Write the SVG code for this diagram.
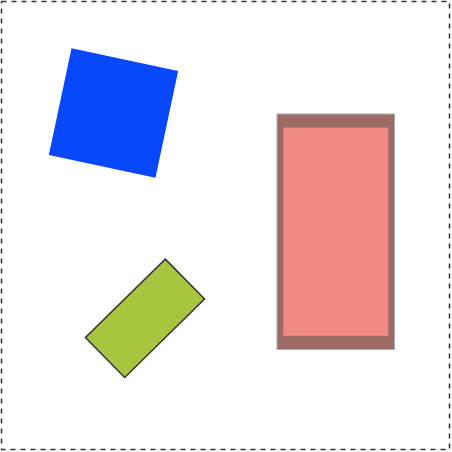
<svg xmlns="http://www.w3.org/2000/svg" width="452" height="452" viewBox="0 0 452 452">
<style>
.frame{fill:none;stroke:#333;stroke-width:1.5;stroke-dasharray:5 5}
</style>
<rect width="452" height="452" fill="#fff"/>
<rect class="frame" x="1.5" y="1.5" width="448" height="448"/>
<g id="blue-square">
<rect x="-54.5" y="-54.5" width="109" height="109" fill="#0648fa" transform="translate(113.5,113) rotate(12)"/>
</g>
<g id="red-rect">
<rect x="277" y="114" width="117.5" height="235.5" fill="#9d6b63" stroke="#a8aebb" stroke-width="1"/>
<rect x="283.3" y="127.6" width="105" height="208.2" fill="#f28b86"/>
</g>
<g id="green-rect">
<rect x="-56" y="-28" width="112" height="56" fill="#a8c53f" stroke="#333" stroke-width="1.5" transform="translate(145,318.3) rotate(-44.5)"/>
</g>
<g id="connectors"></g>
</svg>
